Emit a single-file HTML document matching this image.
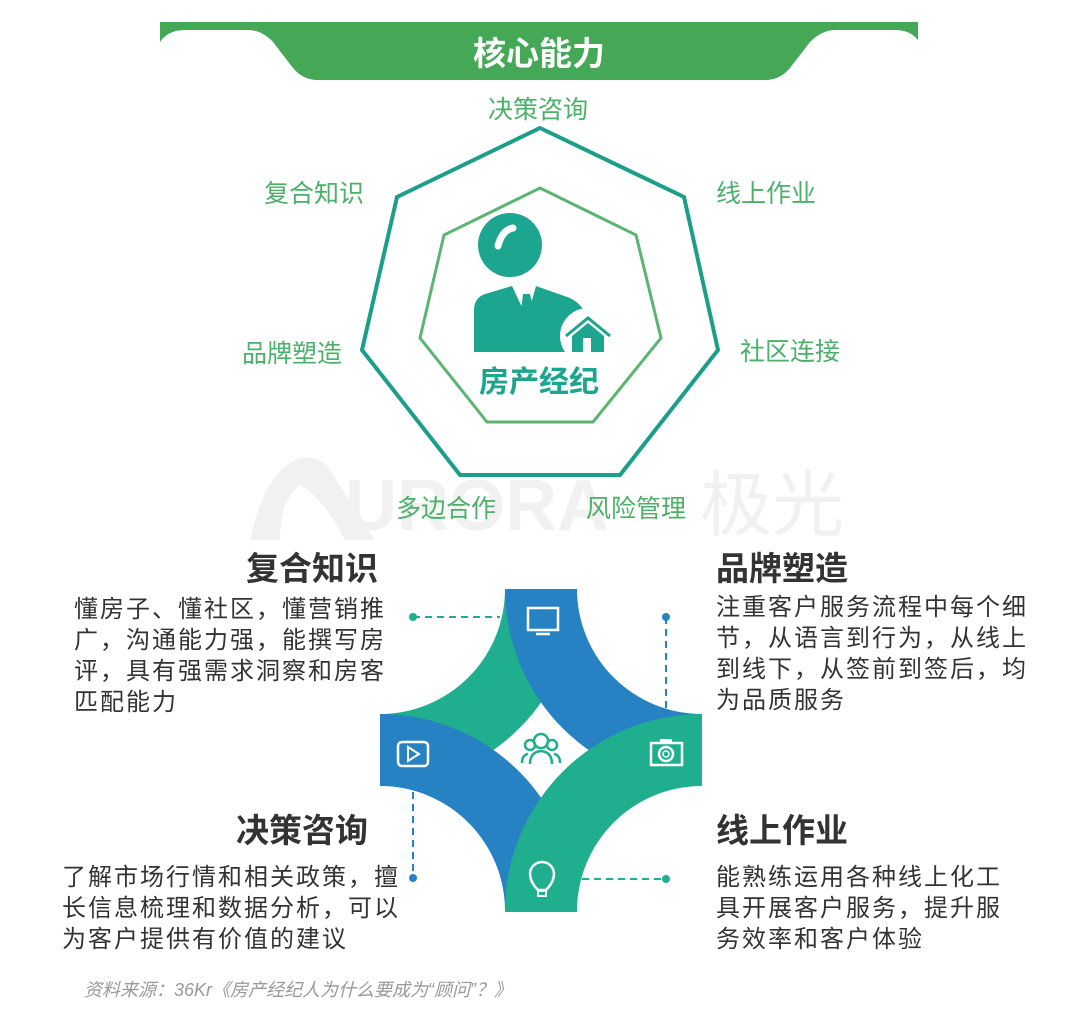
<!DOCTYPE html>
<html><head><meta charset="utf-8"><style>
html,body{margin:0;padding:0;background:#fff;}
body{width:1080px;height:1011px;position:relative;overflow:hidden;font-family:"Liberation Sans","Noto Sans CJK SC",sans-serif;}
.t{position:absolute;white-space:nowrap;}
.g{color:#4caf6a;font-size:25px;}
.h{color:#333;font-size:33px;font-weight:bold;}
.p{color:#333;font-size:24px;line-height:31px;letter-spacing:2px;}
</style></head><body>
<svg width="1080" height="1011" style="position:absolute;left:0;top:0">
<path d="M160,22 L918,22 L918,40 Q910,30 895,30 L835,30 Q822,30 810,42 L790,68 Q780,80 765,80 L318,80 Q303,80 293,68 L273,42 Q262,30 248,30 L185,30 Q168,30 160,42 Z" fill="#45a857"/>
<g fill="#f1f1f1">
<path d="M250,540 Q265,470 300,458 Q320,455 330,470 L375,540 L345,540 Q325,500 300,485 Q280,500 280,540 Z"/>
<text x="345" y="530" font-size="72" font-weight="bold" font-family="Liberation Sans" fill="#f1f1f1">URORA</text>
<text x="700" y="530" font-size="72" font-family="Liberation Sans, Noto Sans CJK SC, sans-serif" fill="#f1f1f1">极光</text>
</g>
<polygon points="540,128 684,197 718,350 620,475 460,475 362,350 397,197" fill="none" stroke="#1b9e8a" stroke-width="4"/>
<polygon points="540,188 636,235 661,338 593,422 487,422 420,338 444,235" fill="none" stroke="#5ab572" stroke-width="3"/>
<circle cx="510" cy="245" r="32" fill="#1ca58f"/>
<path d="M513,228 Q502,230 498,246" stroke="#fff" stroke-width="7" fill="none" stroke-linecap="round"/>
<path d="M474,352 L474,310 Q474,298 485,294 L512,286 L536,286 L570,298 Q584,305 588,320 L588,352 Z" fill="#1ca58f"/>
<path d="M512,286 L527,318 L536,286 Z" fill="#fff"/>
<path d="M523,294 L530,294 L532,302 L535,315 L527,322 L520,315 L522,302 Z" fill="#1ca58f"/>
<circle cx="588" cy="336" r="28" fill="#fff"/>
<path d="M566,336 L588,318 L610,336" stroke="#1ca58f" stroke-width="3" fill="none"/>
<path d="M572,336 L588,323 L604,336 L604,352 L572,352 Z" fill="#1ca58f"/>
<rect x="583" y="338" width="8" height="14" fill="#fff"/>
<defs><clipPath id="c"><rect x="380" y="589" width="322" height="323"/></clipPath></defs>
<g clip-path="url(#c)">
<circle cx="380" cy="589" r="197" fill="#1fae8e"/><circle cx="380" cy="589" r="125" fill="#fff"/>
</g>
<g clip-path="url(#c)">
<path d="M505,589 A197,197 0 0 0 702,786 L702,714 A125,125 0 0 1 577,589 Z" fill="#2682c3"/>
<path d="M380,714 A197,197 0 0 1 577,912 L505,912 A125,125 0 0 0 380,786 Z" fill="#2682c3"/>
<path d="M702,714 A197,197 0 0 0 505,912 L577,912 A125,125 0 0 1 702,786 Z" fill="#1fae8e"/>
</g>
<rect x="528" y="608" width="30" height="22" fill="none" stroke="#fff" stroke-width="2.5"/>
<line x1="536" y1="634" x2="550" y2="634" stroke="#fff" stroke-width="2.5"/>
<rect x="398" y="742" width="30" height="24" rx="4" fill="none" stroke="#fff" stroke-width="2.5"/>
<path d="M408,747 L419,754 L408,761 Z" fill="none" stroke="#fff" stroke-width="2"/>
<rect x="651" y="743" width="31" height="22" fill="none" stroke="#fff" stroke-width="2.5"/>
<rect x="660" y="739" width="12" height="5" fill="#fff"/>
<circle cx="666" cy="754" r="7" fill="none" stroke="#fff" stroke-width="2.5"/>
<circle cx="666" cy="754" r="3" fill="none" stroke="#fff" stroke-width="1.5"/>
<path d="M538,890 Q530,882 530,874 A12,12 0 1 1 554,874 Q554,882 546,890 Z" fill="none" stroke="#fff" stroke-width="2.5"/>
<rect x="538" y="891" width="8" height="5" fill="none" stroke="#fff" stroke-width="2"/>
<g fill="none" stroke="#1fae8e" stroke-width="2.5">
<circle cx="541" cy="741" r="7"/><path d="M530,764 Q530,752 541,751 Q552,752 552,764"/>
<circle cx="530" cy="745" r="5"/><circle cx="552" cy="745" r="5"/>
<path d="M522,763 Q522,755 528,754 M560,763 Q560,755 554,754"/>
</g>
<g stroke-dasharray="7,5" stroke-width="2">
<line x1="413" y1="617" x2="500" y2="617" stroke="#1fae8e"/>
<line x1="666" y1="617" x2="666" y2="708" stroke="#2682c3"/>
<line x1="413" y1="792" x2="413" y2="878" stroke="#2682c3"/>
<line x1="582" y1="879" x2="666" y2="879" stroke="#1fae8e"/>
</g>
<circle cx="413" cy="617" r="4" fill="#1fae8e"/>
<circle cx="666" cy="617" r="4" fill="#2682c3"/>
<circle cx="413" cy="878" r="4" fill="#2682c3"/>
<circle cx="666" cy="879" r="4" fill="#1fae8e"/>
</svg>
<div class="t" style="left:473px;top:27px;color:#fff;font-size:33px;font-weight:bold;">核心能力</div>
<div class="t g" style="left:488px;top:90px;">决策咨询</div>
<div class="t g" style="left:264px;top:174px;">复合知识</div>
<div class="t g" style="left:716px;top:174px;">线上作业</div>
<div class="t g" style="left:242px;top:334px;">品牌塑造</div>
<div class="t g" style="left:740px;top:332px;">社区连接</div>
<div class="t g" style="left:396px;top:489px;">多边合作</div>
<div class="t g" style="left:586px;top:489px;">风险管理</div>
<div class="t" style="left:479px;top:357px;color:#1ca58f;font-size:30px;font-weight:bold;">房产经纪</div>
<div class="t h" style="left:246px;top:542px;">复合知识</div>
<div class="t h" style="left:716px;top:542px;">品牌塑造</div>
<div class="t h" style="left:236px;top:804px;">决策咨询</div>
<div class="t h" style="left:716px;top:804px;">线上作业</div>
<div class="t p" style="left:74px;top:594px;">懂房子、懂社区，懂营销推<br>广，沟通能力强，能撰写房<br>评，具有强需求洞察和房客<br>匹配能力</div>
<div class="t p" style="left:716px;top:592px;">注重客户服务流程中每个细<br>节，从语言到行为，从线上<br>到线下，从签前到签后，均<br>为品质服务</div>
<div class="t p" style="left:62px;top:862px;">了解市场行情和相关政策，擅<br>长信息梳理和数据分析，可以<br>为客户提供有价值的建议</div>
<div class="t p" style="left:716px;top:862px;">能熟练运用各种线上化工<br>具开展客户服务，提升服<br>务效率和客户体验</div>
<div class="t" style="left:84px;top:976px;color:#999;font-size:18px;font-style:italic;">资料来源：36Kr《房产经纪人为什么要成为“顾问”？》</div>
</body></html>
